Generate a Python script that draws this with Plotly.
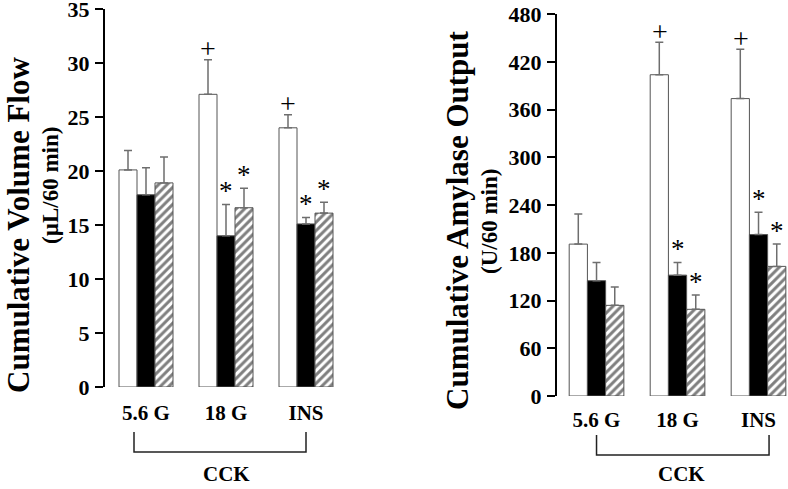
import plotly.graph_objects as go

groups = ["5.6 G", "18 G", "INS"]

vol_white = [20.1, 27.1, 24.0]
vol_white_err = [1.8, 3.2, 1.2]
vol_black = [17.8, 14.0, 15.1]
vol_black_err = [2.5, 2.9, 0.6]
vol_hatch = [18.9, 16.6, 16.1]
vol_hatch_err = [2.4, 1.8, 1.0]

amy_white = [191, 404, 374]
amy_white_err = [38, 41, 62]
amy_black = [145, 152, 203]
amy_black_err = [23, 16, 28]
amy_hatch = [114, 109, 163]
amy_hatch_err = [23, 18, 28]

vol_ticks = [0, 5, 10, 15, 20, 25, 30, 35]
amy_ticks = [0, 60, 120, 180, 240, 300, 360, 420, 480]

# significance marks: (group index, bar index 0/1/2, symbol)
vol_marks = [(1, 0, "+"), (2, 0, "+"), (1, 1, "*"), (1, 2, "*"), (2, 1, "*"), (2, 2, "*")]
amy_marks = [(1, 0, "+"), (2, 0, "+"), (1, 1, "*"), (1, 2, "*"), (2, 1, "*"), (2, 2, "*")]

FONT = "Liberation Serif, Times New Roman, serif"
W, H = 788, 489
ERRC = "#6e6e6e"
EDGE = "#555555"

fig = go.Figure()


def add_bars(xa, ya, vals, errs):
    styles = [
        dict(color="white", line=dict(color=EDGE, width=1)),
        dict(color="black", line=dict(color=EDGE, width=1)),
        dict(color="white", line=dict(color=EDGE, width=1),
             pattern=dict(shape="/", fgcolor="black", bgcolor="white", size=6, solidity=0.5)),
    ]
    for (v, e), st in zip(zip(vals, errs), styles):
        fig.add_trace(go.Bar(
            x=groups, y=v, xaxis=xa, yaxis=ya, marker=st, showlegend=False,
            error_y=dict(type="data", array=e, arrayminus=[0] * len(e), symmetric=False,
                         color=ERRC, thickness=1.5, width=4),
        ))


add_bars("x", "y", [vol_white, vol_black, vol_hatch], [vol_white_err, vol_black_err, vol_hatch_err])
add_bars("x2", "y2", [amy_white, amy_black, amy_hatch], [amy_white_err, amy_black_err, amy_hatch_err])


def px_x(p):
    return p / W


def px_y(p):
    return 1 - p / H


yaxis_common = dict(showline=True, linecolor="black", linewidth=2, ticks="outside", ticklen=8,
                    tickwidth=2, tickcolor="black", showgrid=False, zeroline=False,
                    automargin=False, ticklabeloverflow="allow",
                    tickfont=dict(family=FONT, size=22, color="black", weight="bold"),
                    ticklabelstandoff=1)
xaxis_common = dict(showline=False, ticks="", showgrid=False, zeroline=False, automargin=False,
                    ticklabeloverflow="allow",
                    tickfont=dict(family=FONT, size=21, color="black", weight="bold"))

fig.update_layout(
    width=W, height=H, autosize=False,
    margin=dict(l=0, r=0, t=0, b=0, pad=0, autoexpand=False),
    paper_bgcolor="white", plot_bgcolor="white",
    barmode="group", bargap=0.325, bargroupgap=0,
    xaxis=dict(domain=[px_x(105), px_x(342)], range=[-0.5125, 2.45], anchor="y",
               ticklabelstandoff=11, **xaxis_common),
    yaxis=dict(domain=[px_y(387), px_y(9)], range=[0, 35], tickvals=vol_ticks, anchor="x",
               **yaxis_common),
    xaxis2=dict(domain=[px_x(557), 1.0], range=[-0.488, 2.364], anchor="y2",
                ticklabelstandoff=9, **xaxis_common),
    yaxis2=dict(domain=[px_y(396), px_y(14.3)], range=[0, 480], tickvals=amy_ticks, anchor="x2",
                **yaxis_common),
)

annotations = []
offsets = [-18, 0, 18]


def add_marks(marks, vals, errs, xr, yr):
    for g, b, s in marks:
        annotations.append(dict(
            x=groups[g], y=vals[b][g] + errs[b][g], xref=xr, yref=yr,
            text=s, showarrow=False, xshift=offsets[b], xanchor="center",
            yshift=11 if s == "+" else -4, yanchor="middle" if s == "+" else "bottom",
            font=dict(family=FONT, size=28 if s == "+" else 27, color="black"),
        ))


add_marks(vol_marks, [vol_white, vol_black, vol_hatch], [vol_white_err, vol_black_err, vol_hatch_err], "x", "y")
add_marks(amy_marks, [amy_white, amy_black, amy_hatch], [amy_white_err, amy_black_err, amy_hatch_err], "x2", "y2")

title_font_big = dict(family=FONT, size=31, color="black", weight="bold")
title_font_small = dict(family=FONT, size=23, color="black", weight="bold")
# axis titles
annotations += [
    dict(x=px_x(18), y=px_y(225), xref="paper", yref="paper", text="Cumulative Volume Flow",
         textangle=-90, showarrow=False, xanchor="center", yanchor="middle", font=title_font_big),
    dict(x=px_x(50), y=px_y(186), xref="paper", yref="paper", text="(µL/60 min)",
         textangle=-90, showarrow=False, xanchor="center", yanchor="middle", font=title_font_small),
    dict(x=px_x(458), y=px_y(220), xref="paper", yref="paper", text="Cumulative Amylase Output",
         textangle=-90, showarrow=False, xanchor="center", yanchor="middle", font=title_font_big),
    dict(x=px_x(489), y=px_y(222), xref="paper", yref="paper", text="(U/60 min)",
         textangle=-90, showarrow=False, xanchor="center", yanchor="middle", font=title_font_small),
    dict(x=1.0, y=px_y(474), xref="x", yref="paper", text="CCK", showarrow=False,
         xanchor="center", yanchor="middle",
         font=dict(family=FONT, size=21, color="black", weight="bold")),
    dict(x=1.05, y=px_y(474), xref="x2", yref="paper", text="CCK", showarrow=False,
         xanchor="center", yanchor="middle",
         font=dict(family=FONT, size=21, color="black", weight="bold")),
]
fig.update_layout(annotations=annotations)

# CCK brackets
shapes = []
for xr, x0, x1, ytop, ybot in [("x", -0.15, 2.0, 432, 452), ("x2", 0.0, 2.13, 435, 455)]:
    shapes.append(dict(type="path", xref=xr, yref="paper",
                       path=f"M {x0},{px_y(ytop)} L {x0},{px_y(ybot)} L {x1},{px_y(ybot)} L {x1},{px_y(ytop)}",
                       line=dict(color="#222222", width=1.5)))
fig.update_layout(shapes=shapes)

fig.write_html("out.html", config={"displayModeBar": False},
               post_script="document.body.style.margin='0';document.body.style.overflow='hidden';")
